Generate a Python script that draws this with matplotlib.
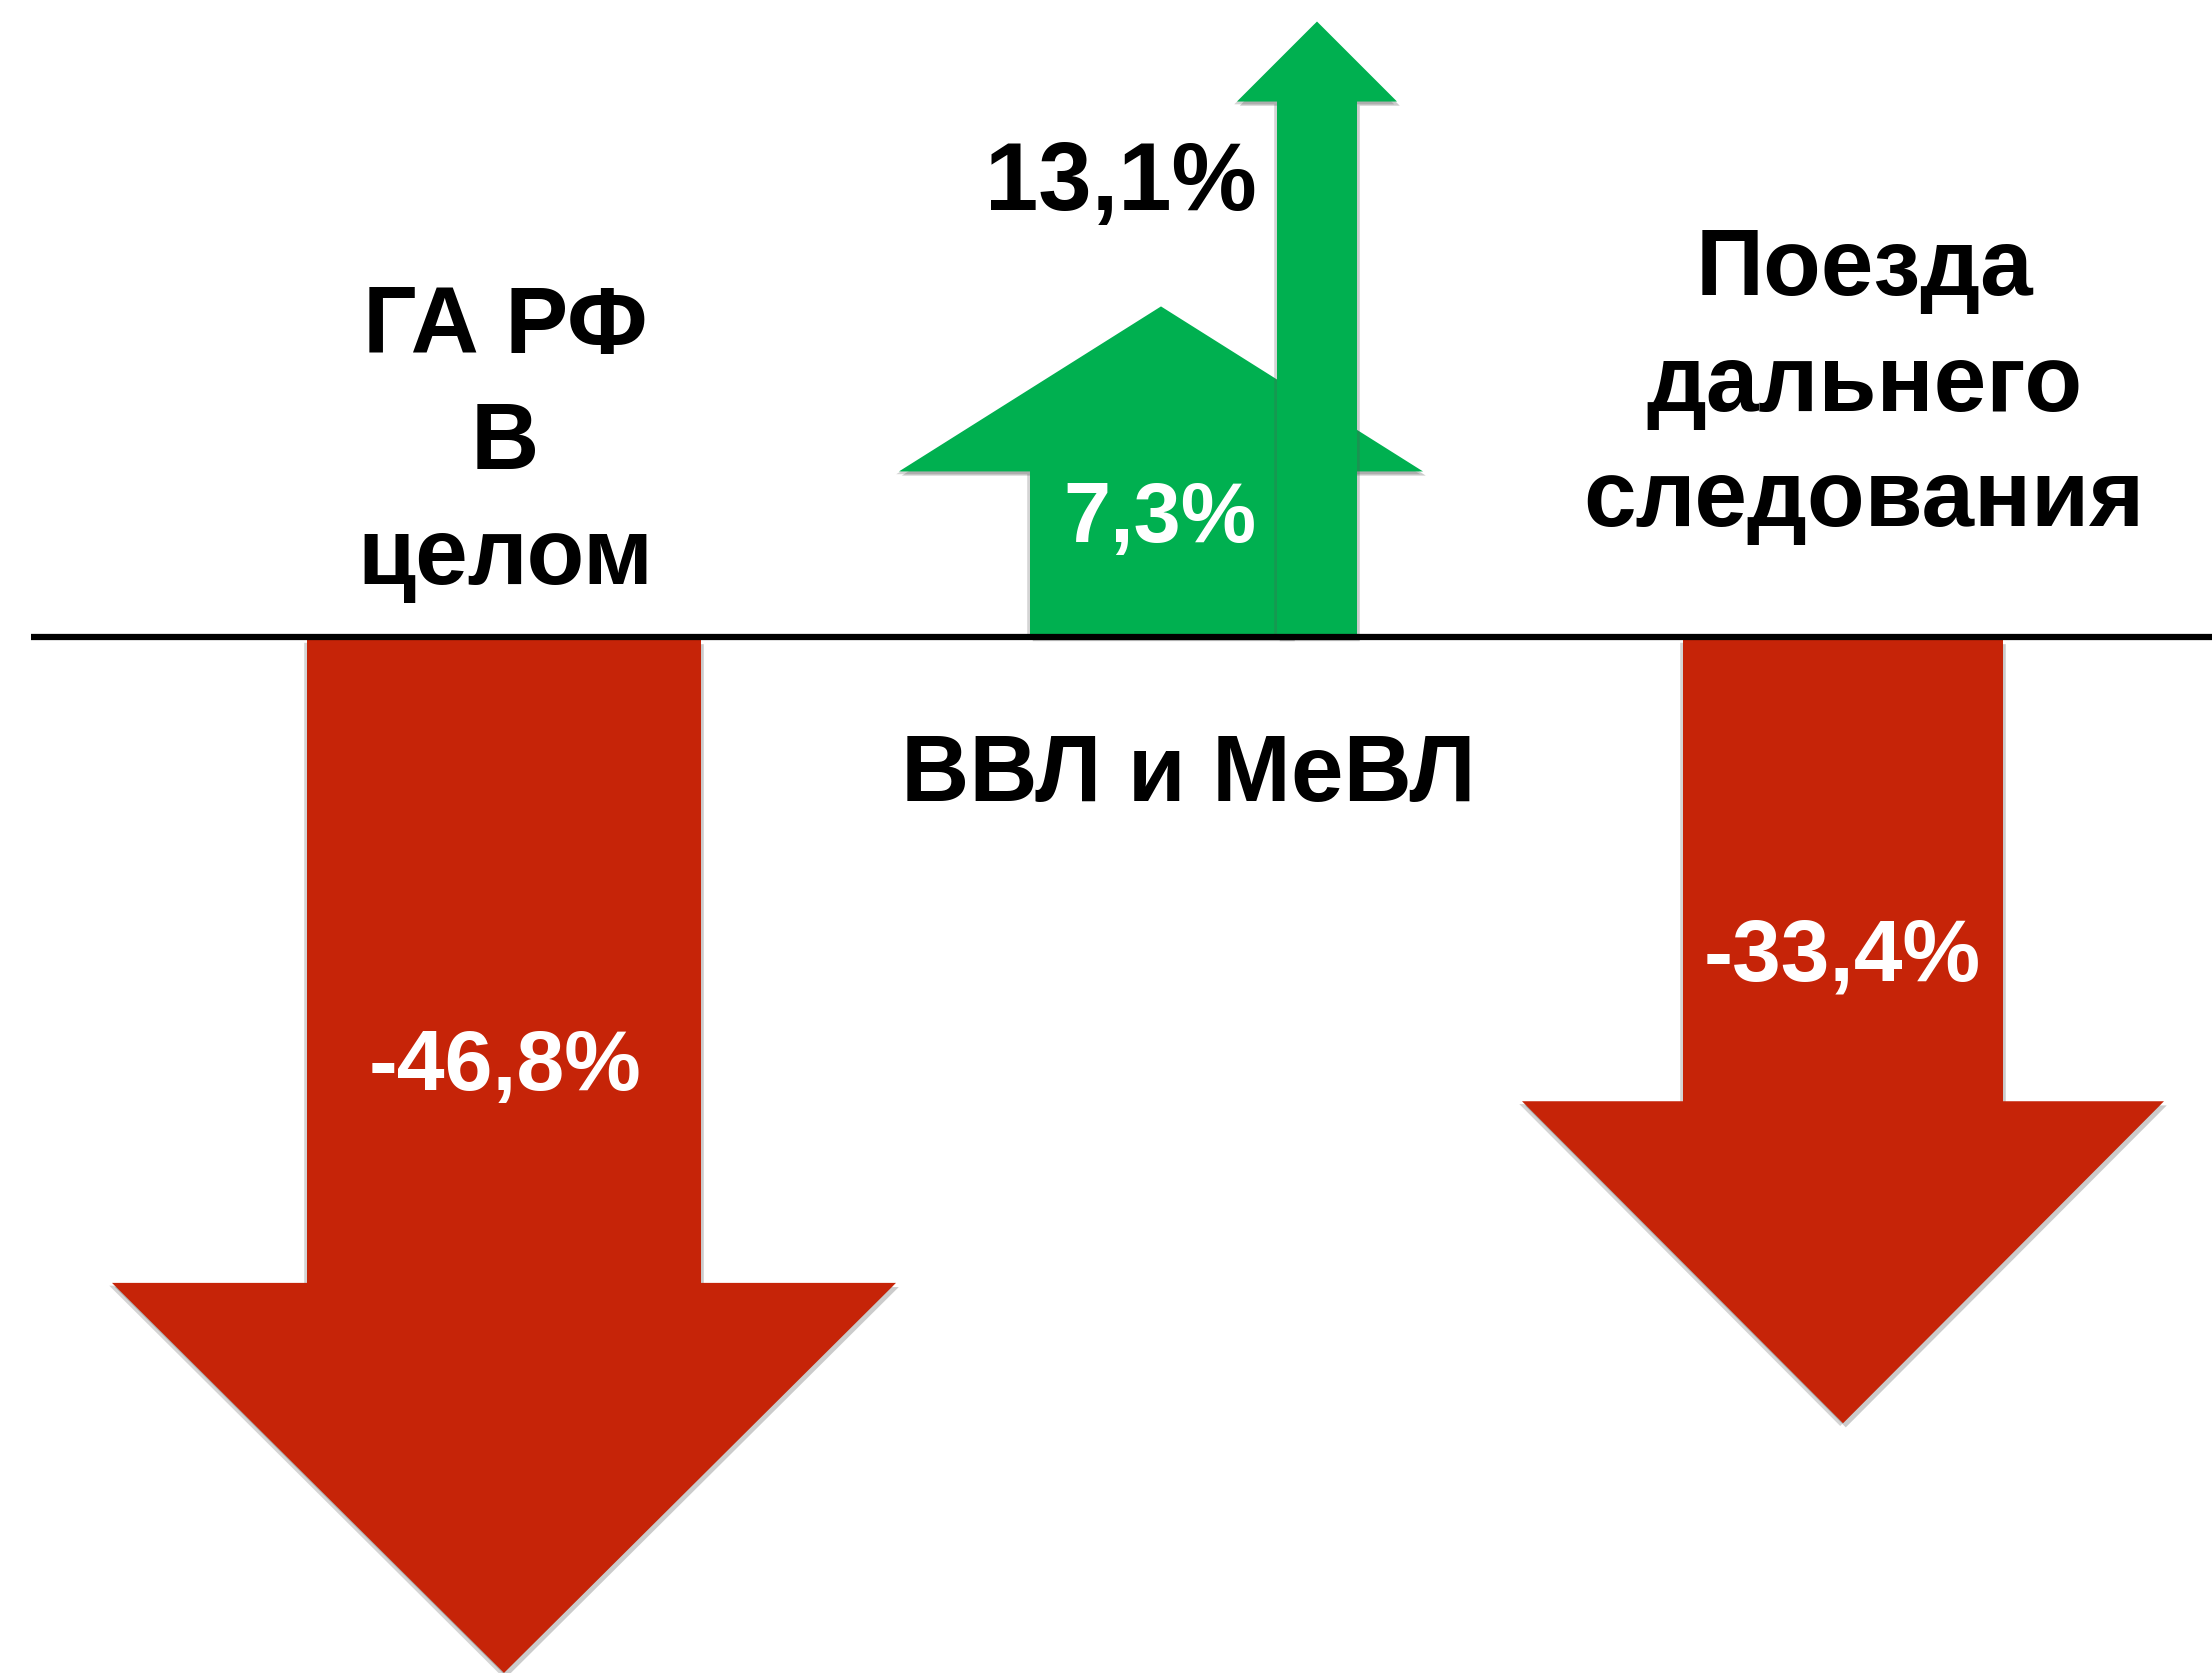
import matplotlib
matplotlib.use("Agg")
import matplotlib.pyplot as plt
import matplotlib.patheffects as pe
from matplotlib.patches import Polygon

# ---- data ----
group_names = ["ГА РФ\nВ\nцелом", "ВВЛ и МеВЛ", "Поезда\nдальнего\nследования"]
arrow_values = [-46.8, 7.3, 13.1, -33.4]
value_labels = ["-46,8%", "7,3%", "13,1%", "-33,4%"]

# ---- layout (pixel units of a 2212x1674 canvas) ----
W, H = 2212, 1674
base_y = 638
# arrow length = offset + slope * |value|  (separate scale for falls and rises)
down_offset, down_slope = 164, 18.63
up_offset, up_slope = -28, 49.12

arrow_x = [504, 1161, 1317, 1843]          # arrow centres
shaft_half = [197, 131, 40, 160]
head_half = [392, 262, 80, 321]
head_len = [390, 165, 80, 322]

red = "#C62408"
green = "#00B050"

plt.rcParams["font.family"] = ["Liberation Sans", "DejaVu Sans"]

fig = plt.figure(figsize=(W / 100, H / 100), dpi=100)
ax = fig.add_axes([0, 0, 1, 1])
ax.set_xlim(0, W)
ax.set_ylim(H, 0)
ax.axis("off")

# soft grey edge on both sides, like the slide's drop shadow
shadow = [pe.SimplePatchShadow(offset=(-2, -2), shadow_rgbFace="#555555", alpha=0.25),
          pe.SimplePatchShadow(offset=(2, -3), shadow_rgbFace="#555555", alpha=0.3),
          pe.Normal()]


def arrow_poly(cx, val, sh, hh, hl):
    if val < 0:
        tip = base_y + down_offset + abs(val) * down_slope
        sd = tip - hl
        top = base_y + 3
    else:
        tip = base_y - (up_offset + val * up_slope)
        sd = tip + hl
        top = base_y
    return [(cx - sh, top), (cx - sh, sd), (cx - hh, sd), (cx, tip),
            (cx + hh, sd), (cx + sh, sd), (cx + sh, top)]


# wide green first, then the narrow green one on top of it
order = [1, 2, 0, 3]
for i in order:
    v = arrow_values[i]
    pts = arrow_poly(arrow_x[i], v, shaft_half[i], head_half[i], head_len[i])
    p = Polygon(pts, closed=True, facecolor=red if v < 0 else green,
                edgecolor="none", zorder=2 + i * 0.1)
    p.set_path_effects(shadow)
    ax.add_patch(p)

ax.plot([31, W], [base_y, base_y], color="black", lw=4.5, zorder=5,
        solid_capstyle="butt")

# value labels
ax.text(505, 1068, value_labels[0], color="white", fontsize=62, fontweight="bold",
        ha="center", va="center", zorder=6)
ax.text(1160, 520, value_labels[1], color="white", fontsize=61, fontweight="bold",
        ha="center", va="center", zorder=6)
ax.text(1121, 185, value_labels[2], color="black", fontsize=69, fontweight="bold",
        ha="center", va="center", zorder=6)
ax.text(1842, 958, value_labels[3], color="white", fontsize=63, fontweight="bold",
        ha="center", va="center", zorder=6)

# group labels
ax.text(505, 444, group_names[0], color="black", fontsize=68, fontweight="bold",
        ha="center", va="center", linespacing=1.38, zorder=6)
ax.text(1188, 776, group_names[1], color="black", fontsize=68, fontweight="bold",
        ha="center", va="center", zorder=6)
ax.text(1864, 386, group_names[2], color="black", fontsize=68, fontweight="bold",
        ha="center", va="center", linespacing=1.38, zorder=6)

fig.savefig("out.png", dpi=100, facecolor="white")
